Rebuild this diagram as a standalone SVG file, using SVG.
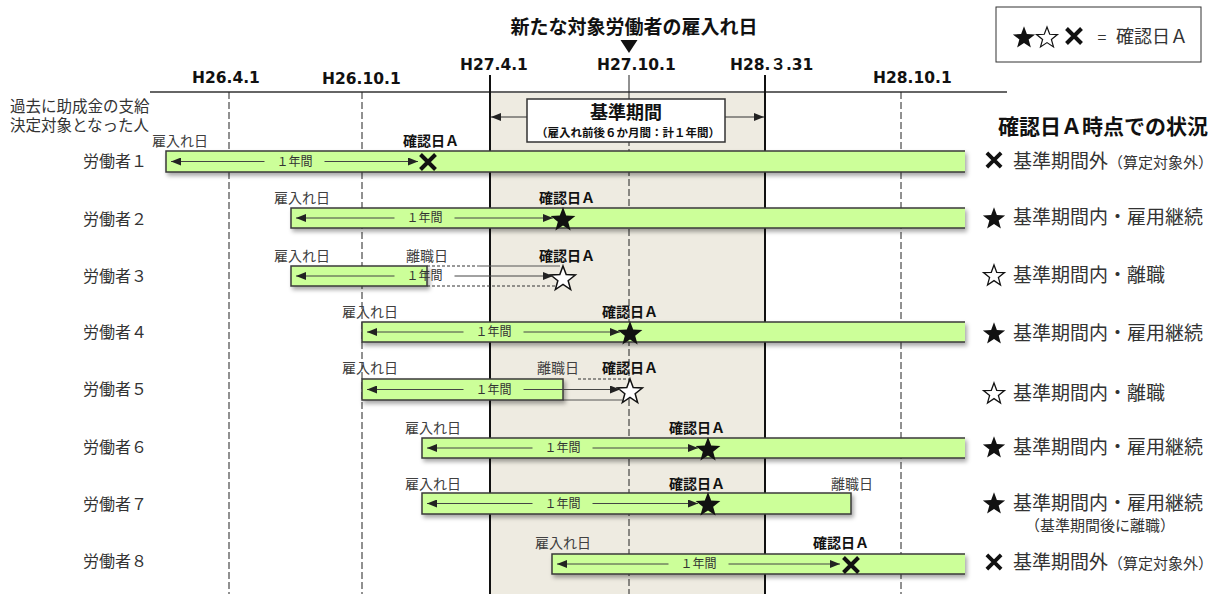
<svg xmlns="http://www.w3.org/2000/svg" xmlns:xlink="http://www.w3.org/1999/xlink" width="1217" height="594" viewBox="0 0 1217 594">
<style>
.jp{font-family:"Noto Sans CJK JP","Noto Sans",sans-serif;}
.lbl{font-family:"Noto Sans CJK JP",sans-serif;font-size:14px;fill:#404040;text-anchor:middle;}
.chk{font-family:"Noto Sans CJK JP",sans-serif;font-size:14px;font-weight:bold;fill:#111;text-anchor:middle;}
.yr{font-family:"Noto Sans CJK JP",sans-serif;font-size:12px;fill:#333;text-anchor:middle;}
.date{font-family:"DejaVu Sans","Noto Sans CJK JP",sans-serif;font-size:15.5px;font-weight:bold;fill:#111;}
.wk{font-family:"Noto Sans CJK JP",sans-serif;font-size:16px;fill:#333;}
.st{font-family:"Noto Sans CJK JP",sans-serif;font-size:19px;fill:#333;}
.bar{fill:#CCFF99;}
.bs{fill:none;stroke:#3a3a3a;stroke-width:1.5;}
.arr{stroke:#444;stroke-width:1;fill:none;}
.dash{stroke:#333;stroke-width:1;stroke-dasharray:3 2;fill:none;}
.grid{stroke:#222;stroke-width:1;stroke-dasharray:7 3;fill:none;}
</style>
<defs>
<marker id="ah" viewBox="0 0 10 8" refX="10" refY="4" markerWidth="10" markerHeight="8" markerUnits="userSpaceOnUse" orient="auto-start-reverse"><path d="M0,0 L10,4 L0,8 z" fill="#222"/></marker>
<filter id="sh" x="-5%" y="-40%" width="110%" height="200%"><feDropShadow dx="2" dy="3" stdDeviation="2" flood-color="#000" flood-opacity="0.35"/></filter>
<path id="star" d="M0,-13 L3.19,-4.39 L12.36,-4.02 L5.16,1.68 L7.64,10.52 L0,5.42 L-7.64,10.52 L-5.16,1.68 L-12.36,-4.02 L-3.19,-4.39 Z"/>
<path id="cross" d="M-7.5,-7.5 L7.5,7.5 M7.5,-7.5 L-7.5,7.5" stroke="#111" stroke-width="4" fill="none"/>
</defs>
<rect width="1217" height="594" fill="#fff"/>

<g id="timeline">
<rect x="490" y="92" width="275" height="502" fill="#EEEBE1"/>
<line x1="150" y1="92" x2="1007" y2="92" stroke="#666" stroke-width="2"/>
<line class="grid" x1="229" y1="92" x2="229" y2="594"/>
<line class="grid" x1="362" y1="92" x2="362" y2="594"/>
<line class="grid" x1="901" y1="92" x2="901" y2="594"/>
<line x1="629" y1="75" x2="629" y2="99" stroke="#222" stroke-width="1"/>
<line class="grid" x1="629" y1="99" x2="629" y2="594"/>
<line x1="490" y1="75" x2="490" y2="594" stroke="#111" stroke-width="2"/>
<line x1="765" y1="75" x2="765" y2="594" stroke="#111" stroke-width="2"/>
<text class="date" x="192" y="83">H26.4.1</text>
<text class="date" x="322" y="84">H26.10.1</text>
<text class="date" x="460" y="70">H27.4.1</text>
<text class="date" x="597" y="70">H27.10.1</text>
<text class="date" x="730" y="70">H28.３.31</text>
<text class="date" x="873" y="83">H28.10.1</text>
<text class="jp" x="634" y="34" font-size="19" font-weight="bold" text-anchor="middle" fill="#111">新たな対象労働者の雇入れ日</text>
<polygon points="620.5,40 637.5,40 629,53" fill="#111"/>
<text class="jp" x="10" y="112" font-size="15.5" fill="#333">過去に助成金の支給<tspan x="10" y="131">決定対象となった人</tspan></text>
</g>

<g id="period-box">
<line x1="527" y1="117" x2="491" y2="117" stroke="#333" stroke-width="1" marker-end="url(#ah)"/>
<line x1="725" y1="117" x2="764" y2="117" stroke="#333" stroke-width="1" marker-end="url(#ah)"/>
<rect x="527" y="99" width="198" height="43" fill="#fff" stroke="#333" stroke-width="1.5"/>
<text class="jp" x="626" y="119" font-size="18" font-weight="bold" text-anchor="middle" fill="#111">基準期間</text>
<text class="jp" x="628" y="137" font-size="11.5" font-weight="bold" text-anchor="middle" fill="#111">（雇入れ前後６か月間：計１年間）</text>
</g>

<g id="legend">
<rect x="996" y="7" width="205" height="55" fill="#fff" stroke="#333" stroke-width="1"/>
<use xlink:href="#star" href="#star" transform="translate(1024,38) scale(0.9)" fill="#111"/>
<use xlink:href="#star" href="#star" transform="translate(1047,38) scale(0.85)" fill="#fff" stroke="#111" stroke-width="1.4"/>
<use xlink:href="#cross" href="#cross" transform="translate(1074,36) scale(1)"/>
<text class="jp" x="1102" y="43" font-size="16" text-anchor="middle" fill="#333">=</text>
<text class="jp" x="1116" y="43" font-size="18" fill="#333">確認日Ａ</text>
<text class="jp" x="998" y="134" font-size="21" font-weight="bold" fill="#111">確認日Ａ時点での状況</text>
</g>

<g id="worker1">
<text class="wk" x="83" y="167">労働者１</text>
<g filter="url(#sh)"><rect class="bar" x="166" y="151" width="799" height="21"/><path class="bs" d="M965,151 H166 V172 H965"/></g>
<text class="lbl" x="180" y="146">雇入れ日</text>
<text class="chk" x="431" y="146">確認日Ａ</text>
<text class="yr" x="294.5" y="166">１年間</text>
<use xlink:href="#cross" href="#cross" transform="translate(428,162)"/>
<use xlink:href="#cross" href="#cross" transform="translate(994,160) scale(0.95)"/>
<text class="st" x="1013" y="168">基準期間外<tspan font-size="15">（算定対象外）</tspan></text>
</g>

<g id="worker2">
<text class="wk" x="83" y="225">労働者２</text>
<g filter="url(#sh)"><rect class="bar" x="291" y="208" width="674" height="20"/><path class="bs" d="M965,208 H291 V228 H965"/></g>
<text class="lbl" x="302" y="203">雇入れ日</text>
<text class="chk" x="567" y="203">確認日Ａ</text>
<text class="yr" x="424.5" y="222">１年間</text>
<use xlink:href="#star" href="#star" transform="translate(563,220)" fill="#111"/>
<use xlink:href="#star" href="#star" transform="translate(994,219) scale(0.9)" fill="#111"/>
<text class="st" x="1013" y="224">基準期間内・雇用継続</text>
</g>

<g id="worker3">
<text class="wk" x="83" y="282">労働者３</text>
<path class="dash" d="M427,266 H477 M427,286 H557"/>
<path d="M477,266 H560" stroke="#555" stroke-width="1" fill="none"/>
<g filter="url(#sh)"><rect class="bar" x="291" y="266" width="136" height="20"/><rect class="bs" x="291" y="266" width="136" height="20"/></g>
<text class="lbl" x="302" y="261">雇入れ日</text>
<text class="lbl" x="427" y="261">離職日</text>
<text class="chk" x="567" y="261">確認日Ａ</text>
<text class="yr" x="424.5" y="280">１年間</text>
<use xlink:href="#star" href="#star" transform="translate(563,279)" fill="#fff" stroke="#111" stroke-width="1.5"/>
<use xlink:href="#star" href="#star" transform="translate(994,276) scale(0.85)" fill="#fff" stroke="#111" stroke-width="1.5"/>
<text class="st" x="1013" y="282">基準期間内・離職</text>
</g>

<g id="worker4">
<text class="wk" x="83" y="338">労働者４</text>
<g filter="url(#sh)"><rect class="bar" x="362" y="322" width="603" height="20"/><path class="bs" d="M965,322 H362 V342 H965"/></g>
<text class="lbl" x="370" y="317">雇入れ日</text>
<text class="chk" x="630" y="317">確認日Ａ</text>
<text class="yr" x="493.5" y="336">１年間</text>
<use xlink:href="#star" href="#star" transform="translate(630,334)" fill="#111"/>
<use xlink:href="#star" href="#star" transform="translate(994,334) scale(0.9)" fill="#111"/>
<text class="st" x="1013" y="340">基準期間内・雇用継続</text>
</g>

<g id="worker5">
<text class="wk" x="83" y="395">労働者５</text>
<path class="dash" d="M578,379 H630"/>
<path d="M563,400 H622" stroke="#555" stroke-width="1" fill="none"/>
<g filter="url(#sh)"><rect class="bar" x="362" y="379" width="201" height="21"/><rect class="bs" x="362" y="379" width="201" height="21"/></g>
<text class="lbl" x="370" y="373">雇入れ日</text>
<text class="lbl" x="558" y="373">離職日</text>
<text class="chk" x="630" y="373">確認日Ａ</text>
<text class="yr" x="493.5" y="394">１年間</text>
<use xlink:href="#star" href="#star" transform="translate(630,392)" fill="#fff" stroke="#111" stroke-width="1.5"/>
<use xlink:href="#star" href="#star" transform="translate(994,394) scale(0.85)" fill="#fff" stroke="#111" stroke-width="1.5"/>
<text class="st" x="1013" y="400">基準期間内・離職</text>
</g>

<g id="worker6">
<text class="wk" x="83" y="453">労働者６</text>
<g filter="url(#sh)"><rect class="bar" x="422" y="438" width="543" height="20"/><path class="bs" d="M965,438 H422 V458 H965"/></g>
<text class="lbl" x="433" y="433">雇入れ日</text>
<text class="chk" x="697" y="433">確認日Ａ</text>
<text class="yr" x="562.5" y="452">１年間</text>
<use xlink:href="#star" href="#star" transform="translate(708,450)" fill="#111"/>
<use xlink:href="#star" href="#star" transform="translate(994,448) scale(0.9)" fill="#111"/>
<text class="st" x="1013" y="454">基準期間内・雇用継続</text>
</g>

<g id="worker7">
<text class="wk" x="83" y="510">労働者７</text>
<g filter="url(#sh)"><rect class="bar" x="422" y="493" width="429" height="21"/><rect class="bs" x="422" y="493" width="429" height="21"/></g>
<text class="lbl" x="433" y="489">雇入れ日</text>
<text class="chk" x="697" y="489">確認日Ａ</text>
<text class="lbl" x="852" y="489">離職日</text>
<text class="yr" x="562.5" y="508">１年間</text>
<use xlink:href="#star" href="#star" transform="translate(708,505)" fill="#111"/>
<use xlink:href="#star" href="#star" transform="translate(994,504) scale(0.9)" fill="#111"/>
<text class="st" x="1013" y="510">基準期間内・雇用継続</text>
<text class="jp" x="1025" y="531" font-size="15" fill="#333">（基準期間後に離職）</text>
</g>

<g id="worker8">
<text class="wk" x="83" y="567">労働者８</text>
<g filter="url(#sh)"><rect class="bar" x="552" y="554" width="413" height="20"/><path class="bs" d="M965,554 H552 V574 H965"/></g>
<text class="lbl" x="563" y="548">雇入れ日</text>
<text class="chk" x="841" y="548">確認日Ａ</text>
<text class="yr" x="698.5" y="568">１年間</text>
<use xlink:href="#cross" href="#cross" transform="translate(851,565)"/>
<use xlink:href="#cross" href="#cross" transform="translate(994,562) scale(0.95)"/>
<text class="st" x="1013" y="569">基準期間外<tspan font-size="15">（算定対象外）</tspan></text>
</g>

<g id="connectors">
<line class="arr" x1="264.5" y1="161.5" x2="171" y2="161.5" marker-end="url(#ah)"/>
<line class="arr" x1="324.5" y1="161.5" x2="418" y2="161.5" marker-end="url(#ah)"/>
<line class="arr" x1="394.5" y1="218" x2="296" y2="218" marker-end="url(#ah)"/>
<line class="arr" x1="454.5" y1="218" x2="553" y2="218" marker-end="url(#ah)"/>
<line class="arr" x1="394.5" y1="276" x2="296" y2="276" marker-end="url(#ah)"/>
<line class="arr" x1="454.5" y1="276" x2="553" y2="276" marker-end="url(#ah)"/>
<line class="arr" x1="463.5" y1="332" x2="367" y2="332" marker-end="url(#ah)"/>
<line class="arr" x1="523.5" y1="332" x2="620" y2="332" marker-end="url(#ah)"/>
<line class="arr" x1="463.5" y1="389.5" x2="367" y2="389.5" marker-end="url(#ah)"/>
<line class="arr" x1="523.5" y1="389.5" x2="620" y2="389.5" marker-end="url(#ah)"/>
<line class="arr" x1="532.5" y1="448" x2="427" y2="448" marker-end="url(#ah)"/>
<line class="arr" x1="592.5" y1="448" x2="698" y2="448" marker-end="url(#ah)"/>
<line class="arr" x1="532.5" y1="503.5" x2="427" y2="503.5" marker-end="url(#ah)"/>
<line class="arr" x1="592.5" y1="503.5" x2="698" y2="503.5" marker-end="url(#ah)"/>
<line class="arr" x1="668.5" y1="564" x2="557" y2="564" marker-end="url(#ah)"/>
<line class="arr" x1="728.5" y1="564" x2="840" y2="564" marker-end="url(#ah)"/>
</g>
</svg>
